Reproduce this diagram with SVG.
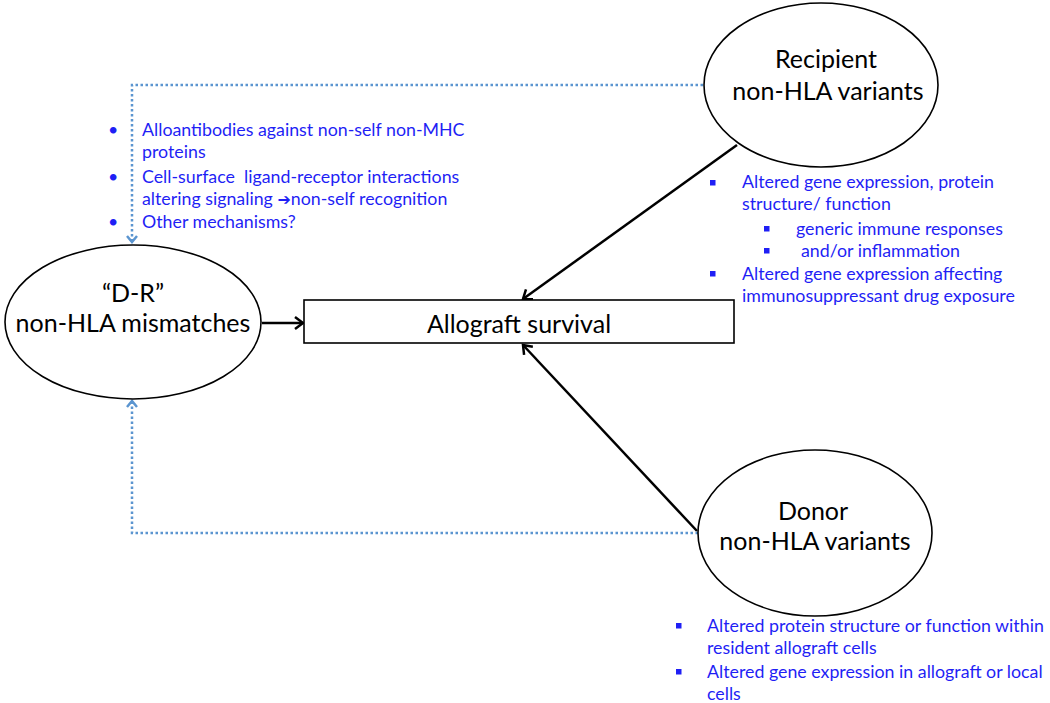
<svg xmlns="http://www.w3.org/2000/svg" width="1050" height="703" viewBox="0 0 1050 703">
<style>
.node{fill:#fff;stroke:#000;stroke-width:1.6}
.lbl{font-family:Lato,"Liberation Sans",sans-serif;font-size:25px;fill:#000;text-anchor:middle}
.blue{font-family:Lato,"DejaVu Sans",sans-serif;font-size:17.8px;fill:#1f1ff5}
.sq{fill:#1f1ff5}
.solid{stroke:#000;stroke-width:2.5;fill:none}
.dot{stroke:#5b95d0;stroke-width:2.5;fill:none;stroke-dasharray:2.5 2.5}
</style>
<defs>
<marker id="ah" markerWidth="14" markerHeight="14" refX="11" refY="7" orient="auto" markerUnits="userSpaceOnUse">
<path d="M3,1 L11,7 L3,13" fill="none" stroke="#000" stroke-width="2.5"/>
</marker>
<marker id="bh" markerWidth="14" markerHeight="14" refX="8" refY="7" orient="auto" markerUnits="userSpaceOnUse">
<path d="M2,2 L8,7 L2,12" fill="none" stroke="#5b95d0" stroke-width="2.5"/>
</marker>
</defs>

<g id="connectors">
<line class="solid" x1="262" y1="323" x2="303" y2="323" marker-end="url(#ah)"/>
<line class="solid" x1="737" y1="145" x2="523" y2="299" marker-end="url(#ah)"/>
<line class="solid" x1="697" y1="531" x2="523" y2="345" marker-end="url(#ah)"/>
<polyline class="dot" points="703,85 132,85 132,242" marker-end="url(#bh)"/>
<polyline class="dot" points="698,533 132,533 132,401" marker-end="url(#bh)"/>
</g>

<g id="node-dr">
<ellipse class="node" cx="133" cy="322" rx="128" ry="77"/>
<text class="lbl" x="133" y="302">“D-R”</text>
<text class="lbl" x="133" y="332">non-HLA mismatches</text>
</g>

<g id="node-allograft">
<rect class="node" x="304" y="300" width="430" height="43" stroke="#333"/>
<text class="lbl" x="519" y="333">Allograft survival</text>
</g>

<g id="node-recipient">
<ellipse class="node" cx="821" cy="85" rx="117" ry="82"/>
<text class="lbl" x="826" y="68">Recipient</text>
<text class="lbl" x="828" y="100">non-HLA variants</text>
</g>

<g id="node-donor">
<ellipse class="node" cx="815" cy="533" rx="117" ry="83"/>
<text class="lbl" x="813" y="520">Donor</text>
<text class="lbl" x="815" y="550">non-HLA variants</text>
</g>

<g id="text-mechanisms">
<text class="blue" x="108" y="136">•</text>
<text class="blue" x="142" y="136">Alloantibodies against non-self non-MHC</text>
<text class="blue" x="142" y="158">proteins</text>
<text class="blue" x="108" y="183">•</text>
<text class="blue" x="142" y="183" xml:space="preserve">Cell-surface  ligand-receptor interactions</text>
<text class="blue" x="142" y="205">altering signaling <tspan font-family="'DejaVu Sans',sans-serif" font-weight="bold" font-size="16">➔</tspan>non-self recognition</text>
<text class="blue" x="108" y="228">•</text>
<text class="blue" x="142" y="228">Other mechanisms?</text>
</g>

<g id="text-recipient">
<rect class="sq" x="710" y="180" width="5.5" height="5.5"/>
<text class="blue" x="742" y="188">Altered gene expression, protein</text>
<text class="blue" x="742" y="210">structure/ function</text>
<rect class="sq" x="764" y="226" width="5.5" height="5.5"/>
<text class="blue" x="796" y="235">generic immune responses</text>
<rect class="sq" x="764" y="248" width="5.5" height="5.5"/>
<text class="blue" x="801" y="257">and/or inflammation</text>
<rect class="sq" x="710" y="271" width="5.5" height="5.5"/>
<text class="blue" x="742" y="280">Altered gene expression affecting</text>
<text class="blue" x="742" y="302">immunosuppressant drug exposure</text>
</g>

<g id="text-donor">
<rect class="sq" x="676" y="623" width="5.5" height="5.5"/>
<text class="blue" x="707" y="632">Altered protein structure or function within</text>
<text class="blue" x="707" y="654">resident allograft cells</text>
<rect class="sq" x="676" y="669" width="5.5" height="5.5"/>
<text class="blue" x="707" y="678">Altered gene expression in allograft or local</text>
<text class="blue" x="707" y="700">cells</text>
</g>
</svg>
